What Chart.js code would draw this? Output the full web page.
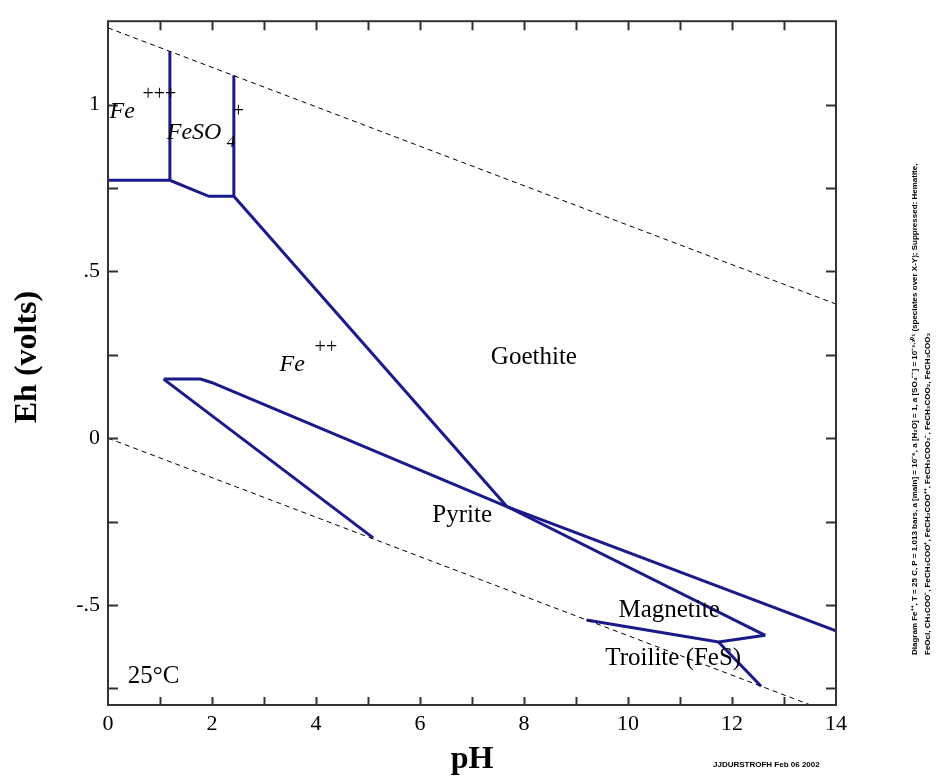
<!DOCTYPE html>
<html>
<head>
<meta charset="utf-8">
<script src="https://cdn.jsdelivr.net/npm/chart.js@4.4.1/dist/chart.umd.min.js"></script>
<style>
  html, body { margin: 0; padding: 0; background: #fff; }
  #wrap { width: 944px; height: 776px; position: relative; }
</style>
</head>
<body>
<div id="wrap"><canvas id="ehph" width="944" height="776"></canvas></div>
<script>
// axis ranges and ticks
const phRange = [0, 14];
const ehRange = [-0.8, 1.25];
const phTickValues = [0, 2, 4, 6, 8, 10, 12, 14];
const ehTickValues = [-0.5, 0, 0.5, 1];
const ehTickLabels = ['-.5', '0', '.5', '1'];

// water stability limits (dashed)
const waterUpper = [[0, 1.23], [14, 0.402]];
const waterLower = [[0, 0], [13.51, -0.8]];

// field boundaries [pH, Eh]
const fe3Fe2 = [[0, 0.773], [1.19, 0.773], [1.94, 0.725], [2.42, 0.725]];
const fe3FeSO4 = [[1.19, 0.773], [1.19, 1.16]];
const feSO4Goethite = [[2.42, 0.725], [2.42, 1.088]];
const fe2Goethite = [[2.42, 0.725], [7.67, -0.205]];
const fe2PyriteUpper = [[1.07, 0.177], [1.78, 0.177], [1.99, 0.167], [7.67, -0.205]];
const fe2PyriteLower = [[1.07, 0.177], [5.10, -0.299]];
const goethitePyrite = [[7.67, -0.205], [14, -0.578]];
const pyriteMagnetite = [[7.67, -0.205], [12.64, -0.591]];
const magnetiteTroilite = [[9.2, -0.545], [11.74, -0.611], [12.64, -0.591]];
const pyriteTroilite = [[11.74, -0.611], [12.56, -0.744]];

const boundaries = [fe3Fe2, fe3FeSO4, feSO4Goethite, fe2Goethite, fe2PyriteUpper,
  fe2PyriteLower, goethitePyrite, pyriteMagnetite, magnetiteTroilite, pyriteTroilite];

// field labels [text, pH, Eh]
const fieldLabels = [
  ['Goethite', 8.19, 0.242],
  ['Pyrite', 6.81, -0.232],
  ['Magnetite', 10.79, -0.517],
  ['Troilite (FeS)', 10.87, -0.660]
];

const toXY = arr => arr.map(p => ({ x: p[0], y: p[1] }));
const lineBlue = '#1a1a8c';

const datasets = boundaries.map(b => ({
  data: toXY(b),
  borderColor: lineBlue,
  borderWidth: 3,
  pointRadius: 0,
  showLine: true,
  fill: false,
  tension: 0
}));
[waterUpper, waterLower].forEach(w => datasets.unshift({
  data: toXY(w),
  borderColor: '#000',
  borderWidth: 1,
  borderDash: [5, 4],
  pointRadius: 0,
  showLine: true,
  fill: false
}));

const serif = '"Liberation Serif", "DejaVu Serif", serif';

const decorations = {
  id: 'decorations',
  afterDraw(chart) {
    const { ctx, chartArea: a, scales: { x, y } } = chart;
    ctx.save();
    // frame
    ctx.strokeStyle = '#333';
    ctx.lineWidth = 2;
    ctx.strokeRect(a.left, a.top, a.right - a.left, a.bottom - a.top);
    // inner ticks
    ctx.beginPath();
    for (let v = phRange[0] + 1; v < phRange[1]; v++) {
      const px = Math.round(x.getPixelForValue(v)) + 0.5;
      ctx.moveTo(px, a.bottom); ctx.lineTo(px, a.bottom - 8);
      ctx.moveTo(px, a.top); ctx.lineTo(px, a.top + 9);
    }
    for (let v = -0.75; v <= 1.0001; v += 0.25) {
      const py = Math.round(y.getPixelForValue(v)) + 0.5;
      ctx.moveTo(a.left, py); ctx.lineTo(a.left + 10, py);
      ctx.moveTo(a.right, py); ctx.lineTo(a.right - 10, py);
    }
    ctx.stroke();

    ctx.fillStyle = '#000';
    // field labels
    ctx.font = '25px ' + serif;
    ctx.textAlign = 'center';
    ctx.textBaseline = 'middle';
    fieldLabels.forEach(l => ctx.fillText(l[0], x.getPixelForValue(l[1]), y.getPixelForValue(l[2])));

    // aqueous species
    const species = (txt, sup, sub, ph, eh, supDx, supDy, subDx) => {
      const px = x.getPixelForValue(ph), py = y.getPixelForValue(eh);
      ctx.textAlign = 'left';
      ctx.textBaseline = 'alphabetic';
      ctx.font = 'italic 24px ' + serif;
      ctx.fillText(txt, px, py);
      ctx.font = '20px ' + serif;
      ctx.textBaseline = 'middle';
      ctx.fillText(sup, px + supDx, py + supDy);
      if (sub) {
        ctx.font = 'italic 17px ' + serif;
        ctx.fillText(sub, px + subDx, py + 4);
      }
    };
    species('Fe', '+++', null, 0.03, 0.959, 33, -24);
    species('FeSO', '+', '4', 1.13, 0.897, 66, -27, 60);
    species('Fe', '++', null, 3.30, 0.201, 35, -23);

    // temperature
    ctx.font = '25px ' + serif;
    ctx.textAlign = 'left';
    ctx.textBaseline = 'middle';
    ctx.fillText('25\u00B0C', x.getPixelForValue(0.38), y.getPixelForValue(-0.713));

    // axis titles
    ctx.font = 'bold 32px ' + serif;
    ctx.textAlign = 'center';
    ctx.fillText('pH', (a.left + a.right) / 2, 760);
    ctx.save();
    ctx.translate(28, 357);
    ctx.rotate(-Math.PI / 2);
    ctx.fillText('Eh (volts)', 0, 0);
    ctx.restore();

    // side notes
    ctx.font = 'bold 8px "Liberation Sans", Arial, sans-serif';
    ctx.textAlign = 'left';
    ctx.save();
    ctx.translate(915, 655);
    ctx.rotate(-Math.PI / 2);
    ctx.fillText('Diagram Fe\u207A\u207A, T = 25 C, P = 1.013 bars, a [main] = 10\u207B\u2076, a [H\u2082O] = 1, a [SO\u2084\u207B\u207B] = 10\u207B\u00B3\u22C5\u00B3\u2070\u00B9 (speciates over X-Y); Suppressed: Hematite,', 0, 0, 597);
    ctx.fillText('FeOcl, CH\u2083COO\u207B, FeCH\u2083COO\u207A, FeCH\u2083COO\u207A\u207A, FeCH\u2083COO\u2082\u207B, FeCH\u2083COO\u2082, FeCH\u2083COO\u2083', 0, 13, 357);
    ctx.restore();
    ctx.fillText('JJDURSTROFH Feb 06 2002', 713, 765, 120);
    ctx.restore();
  }
};

new Chart(document.getElementById('ehph').getContext('2d'), {
  type: 'scatter',
  data: { datasets },
  options: {
    responsive: false,
    animation: false,
    events: [],
    layout: { padding: { left: 0, top: 14, right: 108, bottom: 0 } },
    plugins: { legend: { display: false }, tooltip: { enabled: false } },
    scales: {
      x: {
        type: 'linear',
        min: phRange[0],
        max: phRange[1],
        afterFit: s => { s.height = 71; },
        afterBuildTicks: s => { s.ticks = phTickValues.map(v => ({ value: v })); },
        grid: { display: false, drawTicks: false },
        border: { display: false },
        ticks: {
          padding: 6,
          color: '#000',
          font: { family: serif, size: 22 },
          maxRotation: 0,
          callback: v => String(v)
        }
      },
      y: {
        type: 'linear',
        min: ehRange[0],
        max: ehRange[1],
        afterFit: s => { s.width = 108; },
        afterBuildTicks: s => { s.ticks = ehTickValues.map(v => ({ value: v })); },
        grid: { display: false, drawTicks: false },
        border: { display: false },
        ticks: {
          padding: 8,
          color: '#000',
          font: { family: serif, size: 22 },
          callback: v => ehTickLabels[ehTickValues.indexOf(v)]
        }
      }
    }
  },
  plugins: [decorations]
});
</script>
</body>
</html>
